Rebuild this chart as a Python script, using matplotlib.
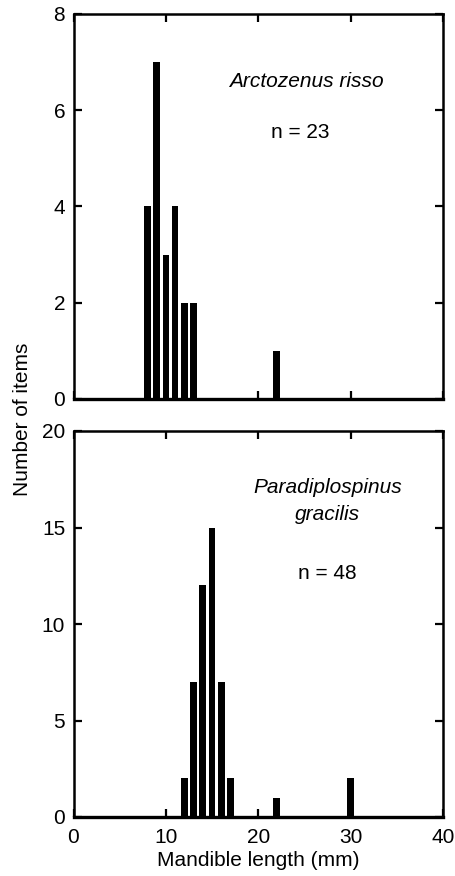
import matplotlib
matplotlib.use("Agg")
import matplotlib.pyplot as plt

# Data
top_x = [8, 9, 10, 11, 12, 13, 22]
top_counts = [4, 7, 3, 4, 2, 2, 1]
bot_x = [12, 13, 14, 15, 16, 17, 22, 30]
bot_counts = [2, 7, 12, 15, 7, 2, 1, 2]
x_ticks = [0, 10, 20, 30, 40]
top_yticks = [0, 2, 4, 6, 8]
bot_yticks = [0, 5, 10, 15, 20]

plt.rcParams['font.family'] = ['Liberation Sans', 'DejaVu Sans']

fig = plt.figure(figsize=(4.55, 8.76), dpi=100)
W, H = 455, 876
ax1 = fig.add_axes([73.5 / W, 1 - 399 / H, (443 - 73.5) / W, (399 - 14) / H])
ax2 = fig.add_axes([73.5 / W, 1 - 817 / H, (443 - 73.5) / W, (817 - 431) / H])

for ax, xs, cs, yt in [(ax1, top_x, top_counts, top_yticks), (ax2, bot_x, bot_counts, bot_yticks)]:
    ax.bar(xs, cs, width=0.72, color='black', align='center')
    ax.set_xlim(0, 40)
    ax.set_ylim(yt[0], yt[-1])
    ax.set_xticks(x_ticks)
    ax.set_yticks(yt)
    ax.tick_params(direction='in', top=True, right=True, length=6, width=1.6,
                   labelsize=15, pad=6)
    ax.tick_params(axis='x', pad=8)
    for s in ax.spines.values():
        s.set_linewidth(1.8)
    ax.spines['bottom'].set_linewidth(2.4)

ax1.tick_params(labelbottom=False)

fs = 15
ax1.text(25.2, 6.6, 'Arctozenus risso', style='italic', fontsize=fs,
         ha='center', va='center')
ax1.text(24.6, 5.53, 'n = 23', fontsize=fs, ha='center', va='center')

ax2.text(27.5, 17.06, 'Paradiplospinus', style='italic', fontsize=fs,
         ha='center', va='center')
ax2.text(27.5, 15.65, 'gracilis', style='italic', fontsize=fs,
         ha='center', va='center')
ax2.text(27.5, 12.6, 'n = 48', fontsize=fs, ha='center', va='center')

ax2.set_xlabel('Mandible length (mm)', fontsize=fs, labelpad=3)
fig.text(23 / W, 1 - 419 / H, 'Number of items', rotation=90, fontsize=fs,
         ha='center', va='center')

fig.savefig('out.png', dpi=100)
